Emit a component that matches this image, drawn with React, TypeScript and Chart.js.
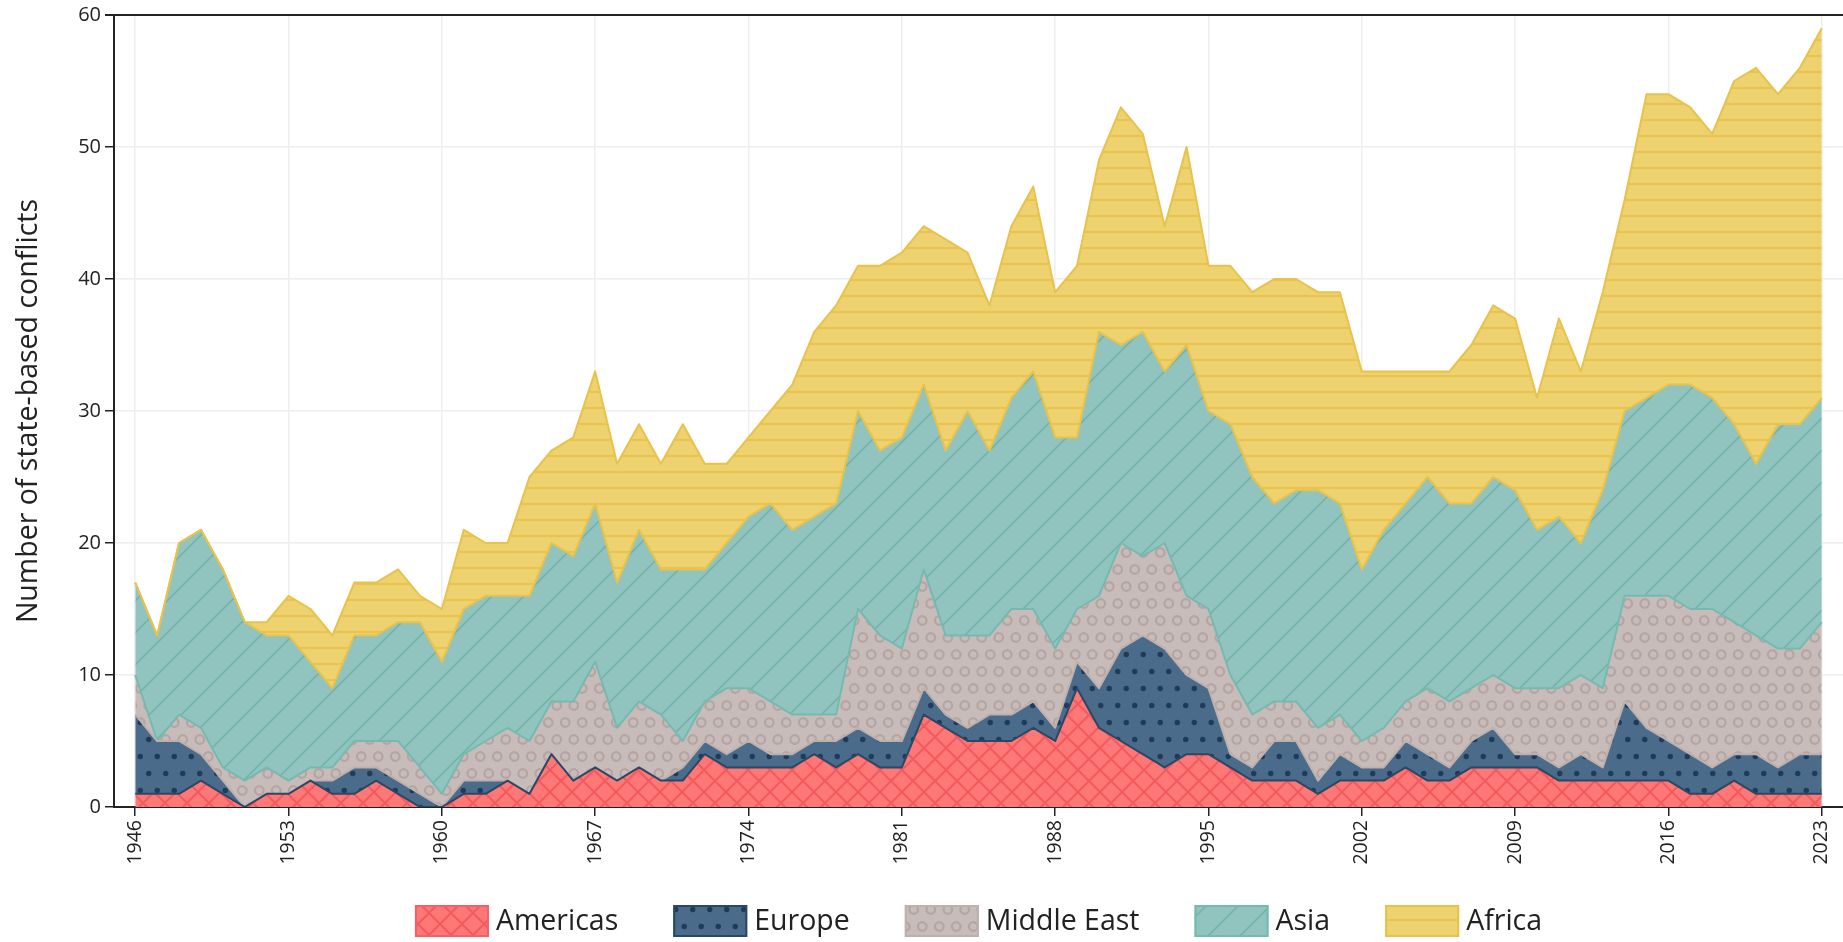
import React, { useEffect, useRef } from 'react';
import { Chart, registerables } from 'chart.js';
Chart.register(...registerables);

const years = [
  1946, 1947, 1948, 1949, 1950, 1951, 1952, 1953, 1954, 1955, 1956, 1957, 1958, 1959,
  1960, 1961, 1962, 1963, 1964, 1965, 1966, 1967, 1968, 1969, 1970, 1971, 1972, 1973,
  1974, 1975, 1976, 1977, 1978, 1979, 1980, 1981, 1982, 1983, 1984, 1985, 1986, 1987,
  1988, 1989, 1990, 1991, 1992, 1993, 1994, 1995, 1996, 1997, 1998, 1999, 2000, 2001,
  2002, 2003, 2004, 2005, 2006, 2007, 2008, 2009, 2010, 2011, 2012, 2013, 2014, 2015,
  2016, 2017, 2018, 2019, 2020, 2021, 2022, 2023,
];

const americas = [
  1, 1, 1, 2, 1, 0, 1, 1, 2, 1, 1, 2, 1, 0,
  0, 1, 1, 2, 1, 4, 2, 3, 2, 3, 2, 2, 4, 3,
  3, 3, 3, 4, 3, 4, 3, 3, 7, 6, 5, 5, 5, 6,
  5, 9, 6, 5, 4, 3, 4, 4, 3, 2, 2, 2, 1, 2,
  2, 2, 3, 2, 2, 3, 3, 3, 3, 2, 2, 2, 2, 2,
  2, 1, 1, 2, 1, 1, 1, 1,
];

const europe = [
  6, 4, 4, 2, 1, 0, 0, 0, 0, 1, 2, 1, 1, 1,
  0, 1, 1, 0, 0, 0, 0, 0, 0, 0, 0, 1, 1, 1,
  2, 1, 1, 1, 2, 2, 2, 2, 2, 1, 1, 2, 2, 2,
  1, 2, 3, 7, 9, 9, 6, 5, 1, 1, 3, 3, 1, 2,
  1, 1, 2, 2, 1, 2, 3, 1, 1, 1, 2, 1, 6, 4,
  3, 3, 2, 2, 3, 2, 3, 3,
];

const middleEast = [
  3, 0, 2, 2, 1, 2, 2, 1, 1, 1, 2, 2, 3, 2,
  1, 2, 3, 4, 4, 4, 6, 8, 4, 5, 5, 2, 3, 5,
  4, 4, 3, 2, 2, 9, 8, 7, 9, 6, 7, 6, 8, 7,
  6, 4, 7, 8, 6, 8, 6, 6, 6, 4, 3, 3, 4, 3,
  2, 3, 3, 5, 5, 4, 4, 5, 5, 6, 6, 6, 8, 10,
  11, 11, 12, 10, 9, 9, 8, 10,
];

const asia = [
  7, 8, 13, 15, 15, 12, 10, 11, 8, 6, 8, 8, 9, 11,
  10, 11, 11, 10, 11, 12, 11, 12, 11, 13, 11, 13, 10, 11,
  13, 15, 14, 15, 16, 15, 14, 16, 14, 14, 17, 14, 16, 18,
  16, 13, 20, 15, 17, 13, 19, 15, 19, 18, 15, 16, 18, 16,
  13, 15, 15, 16, 15, 14, 15, 15, 12, 13, 10, 15, 14, 15,
  16, 17, 16, 15, 13, 17, 17, 17,
];

const africa = [
  0, 0, 0, 0, 0, 0, 1, 3, 4, 4, 4, 4, 4, 2,
  4, 6, 4, 4, 9, 7, 9, 10, 9, 8, 8, 11, 8, 6,
  6, 7, 11, 14, 15, 11, 14, 14, 12, 16, 12, 11, 13, 14,
  11, 13, 13, 18, 15, 11, 15, 11, 12, 14, 17, 16, 15, 16,
  15, 12, 10, 8, 10, 12, 13, 13, 10, 15, 13, 15, 16, 23,
  22, 21, 20, 26, 30, 25, 27, 28,
];

const seriesNames = ['Americas', 'Europe', 'Middle East', 'Asia', 'Africa'];
const yTicks = [0, 10, 20, 30, 40, 50, 60];
const xTickStep = 7;
const yTitle = 'Number of state-based conflicts';

const FONT = '"Open Sans", "Noto Sans", sans-serif';
const W = 1843;
const H = 942;

function makePattern(
  main: CanvasRenderingContext2D,
  w: number,
  h: number,
  bg: string,
  draw: (c: CanvasRenderingContext2D) => void
): CanvasPattern {
  const cv = document.createElement('canvas');
  cv.width = w;
  cv.height = h;
  const c = cv.getContext('2d') as CanvasRenderingContext2D;
  c.fillStyle = bg;
  c.fillRect(0, 0, w, h);
  draw(c);
  return main.createPattern(cv, 'repeat') as CanvasPattern;
}

export default function App() {
  const ref = useRef<HTMLCanvasElement | null>(null);

  useEffect(() => {
    const canvas = ref.current;
    if (!canvas) return;
    const ctx = canvas.getContext('2d') as CanvasRenderingContext2D;

    const pAmericas = makePattern(ctx, 22, 22, '#FF7878', (c) => {
      c.strokeStyle = '#F45A5E';
      c.lineWidth = 2;
      c.beginPath();
      c.moveTo(-2, -2); c.lineTo(24, 24);
      c.moveTo(24, -2); c.lineTo(-2, 24);
      c.stroke();
    });
    const pEurope = makePattern(ctx, 17, 34, '#4A6B89', (c) => {
      c.fillStyle = '#1E3B5C';
      c.beginPath(); c.arc(4.25, 8.5, 2.7, 0, Math.PI * 2); c.fill();
      c.beginPath(); c.arc(12.75, 25.5, 2.7, 0, Math.PI * 2); c.fill();
    });
    const pMiddle = makePattern(ctx, 17, 34, '#C8BCBA', (c) => {
      c.strokeStyle = '#B5A5A2';
      c.lineWidth = 2.2;
      c.beginPath(); c.arc(4.25, 8.5, 4.3, 0, Math.PI * 2); c.stroke();
      c.beginPath(); c.arc(12.75, 25.5, 4.3, 0, Math.PI * 2); c.stroke();
      c.beginPath(); c.arc(4.25 + 17, 8.5, 4.3, 0, Math.PI * 2); c.stroke();
      c.beginPath(); c.arc(12.75 - 17, 25.5, 4.3, 0, Math.PI * 2); c.stroke();
      c.beginPath(); c.arc(4.25, 8.5 + 34, 4.3, 0, Math.PI * 2); c.stroke();
      c.beginPath(); c.arc(12.75, 25.5 - 34, 4.3, 0, Math.PI * 2); c.stroke();
    });
    const pAsia = makePattern(ctx, 32, 32, '#92C4BF', (c) => {
      c.strokeStyle = '#74B4AC';
      c.lineWidth = 1.8;
      c.beginPath();
      c.moveTo(-2, 34); c.lineTo(34, -2);
      c.moveTo(-4, 4); c.lineTo(4, -4);
      c.moveTo(28, 36); c.lineTo(36, 28);
      c.stroke();
    });
    const pAfrica = makePattern(ctx, 16, 16, '#EED26F', (c) => {
      c.strokeStyle = '#E8C34E';
      c.lineWidth = 2;
      c.beginPath(); c.moveTo(0, 8); c.lineTo(16, 8); c.stroke();
    });

    const fills = [pAmericas, pEurope, pMiddle, pAsia, pAfrica];
    const strokes = ['#F2606A', '#2A4866', '#BDB0AD', '#74BAB0', '#E8C24A'];
    const values = [americas, europe, middleEast, asia, africa];

    const datasets = values.map((vals, i) => ({
      label: seriesNames[i],
      data: vals.map((v, j) => ({ x: years[j], y: v })),
      backgroundColor: fills[i],
      borderColor: strokes[Math.min(i + 1, strokes.length - 1)],
      legendStroke: strokes[i],
      borderWidth: 2,
      pointRadius: 0,
      pointHoverRadius: 0,
      tension: 0,
      fill: i === 0 ? 'origin' : '-1',
    }));

    const frame = {
      id: 'frameTop',
      afterDraw(chart: any) {
        const { ctx: c, chartArea } = chart;
        c.save();
        c.strokeStyle = '#222';
        c.lineWidth = 2;
        c.beginPath();
        c.moveTo(chartArea.left - 9, chartArea.top);
        c.lineTo(chartArea.right, chartArea.top);
        c.stroke();
        c.restore();
      },
    };

    const legend = {
      id: 'patternLegend',
      afterDraw(chart: any) {
        const c = chart.ctx as CanvasRenderingContext2D;
        const ds = chart.data.datasets;
        const boxW = 74, boxH = 32, gap = 7, itemGap = 55;
        c.save();
        c.font = `28.5px ${FONT}`;
        const widths = ds.map((d: any) => c.measureText(d.label).width);
        const itemW = widths.map((w: number) => boxW + gap + w);
        const total = itemW.reduce((a: number, b: number) => a + b, 0) + itemGap * (ds.length - 1);
        const ca = chart.chartArea;
        let x = (ca.left + ca.right) / 2 - total / 2;
        const cy = ca.bottom + 114;
        ds.forEach((d: any, i: number) => {
          c.fillStyle = d.backgroundColor;
          c.fillRect(x, cy - boxH / 2, boxW, boxH);
          c.strokeStyle = d.legendStroke;
          c.lineWidth = 2;
          c.strokeRect(x + 1, cy - boxH / 2 + 1, boxW - 2, boxH - 2);
          c.fillStyle = '#222';
          c.textBaseline = 'middle';
          c.textAlign = 'left';
          c.fillText(d.label, x + boxW + gap, cy + 1);
          x += itemW[i] + itemGap;
        });
        c.restore();
      },
    };

    const chart = new Chart(canvas, {
      type: 'line',
      data: { datasets: datasets as any },
      plugins: [frame, legend],
      options: {
        responsive: false,
        animation: false,
        devicePixelRatio: 1,
        layout: { padding: { top: 15, bottom: 75, left: 0, right: 0 } },
        plugins: {
          legend: { display: false },
          tooltip: { enabled: false },
          filler: { propagate: false },
        },
        elements: { line: { borderJoinStyle: 'round' } },
        scales: {
          x: {
            type: 'linear',
            min: 1945.03,
            max: 2023.97,
            afterFit: (s: any) => {
              s.height = 60;
              s.paddingLeft = 0;
              s.paddingRight = 0;
            },
            ticks: {
              stepSize: xTickStep,
              includeBounds: false,
              autoSkip: false,
              maxTicksLimit: 30,
              minRotation: 90,
              maxRotation: 90,
              padding: 4,
              color: '#222',
              font: { size: 19.5, family: FONT },
              callback: (v: any) => String(v),
            },
            grid: { color: '#EEEEEE', lineWidth: 1.5, tickColor: '#222', tickLength: 9, tickWidth: 1.5 },
            border: { color: '#222', width: 2 },
          },
          y: {
            stacked: true,
            min: yTicks[0],
            max: yTicks[yTicks.length - 1],
            afterFit: (s: any) => {
              s.width = 114;
              s.paddingTop = 0;
              s.paddingBottom = 0;
            },
            ticks: {
              stepSize: 10,
              padding: 4,
              color: '#222',
              font: { size: 20, family: FONT },
            },
            grid: { color: '#EEEEEE', lineWidth: 1.5, tickColor: '#222', tickLength: 9, tickWidth: 1.5 },
            border: { color: '#222', width: 2 },
            title: {
              display: true,
              text: yTitle,
              color: '#222',
              font: { size: 28.5, family: FONT },
              padding: { top: 12, bottom: 0 },
            },
          },
        },
      } as any,
    });

    return () => chart.destroy();
  }, []);

  return (
    <div style={{ position: 'fixed', left: 0, top: 0, width: W, height: H, background: '#fff' }}>
      <canvas ref={ref} width={W} height={H} style={{ width: W, height: H, display: 'block' }} />
    </div>
  );
}
